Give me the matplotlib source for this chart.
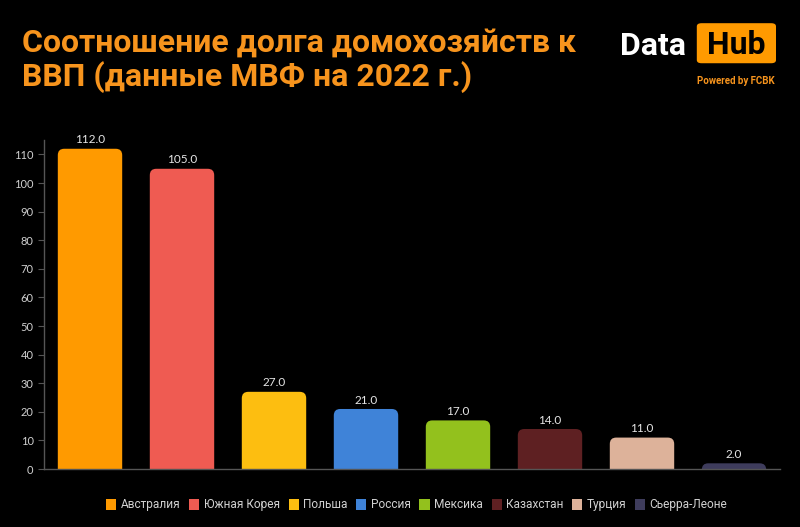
import matplotlib.pyplot as plt
from matplotlib.patches import FancyBboxPatch, Patch

countries = ['Австралия', 'Южная Корея', 'Польша', 'Россия', 'Мексика',
             'Казахстан', 'Турция', 'Сьерра-Леоне']
values = [112.0, 105.0, 27.0, 21.0, 17.0, 14.0, 11.0, 2.0]
colors = ['#FF9A00', '#EF5B52', '#FDBE10', '#3F83D8', '#93C11D',
          '#5E2022', '#DDB29A', '#3E3C5C']
yticks = list(range(0, 111, 10))

plt.rcParams['font.family'] = ['Roboto', 'DejaVu Sans']

fig = plt.figure(figsize=(8, 5.27), dpi=100, facecolor='black')
ax = fig.add_axes([0.055, 0.110, 0.920, 0.624], facecolor='black')

# bars with rounded tops (bottom part hidden below zero)
w = 0.7
bars = ax.bar(range(len(values)), values, width=w, color=colors)
for b, c in zip(bars, colors):
    b.set_visible(False)
    x0 = b.get_x()
    h = b.get_height()
    p = FancyBboxPatch((x0, -6), w, h + 6,
                       boxstyle='round,pad=0,rounding_size=0.07',
                       mutation_aspect=32, fc=c, ec='none', clip_on=True)
    ax.add_patch(p)
    ax.text(x0 + w / 2, h + 1.2, f'{h:.1f}', ha='center', va='bottom',
            color='#e6e6e6', fontsize=8.5, family=['Lato', 'DejaVu Sans'])

ax.set_xlim(-0.5, len(values) - 0.5)
ax.set_ylim(0, 115)
ax.set_yticks(yticks)
ax.set_xticks([])
ax.tick_params(axis='y', colors='#555555', labelcolor='#d0d0d0',
               labelsize=8, length=4, width=0.8)
for lab in ax.get_yticklabels():
    lab.set_family(['Lato', 'DejaVu Sans'])
for s in ['top', 'right']:
    ax.spines[s].set_visible(False)
for s in ['left', 'bottom']:
    ax.spines[s].set_color('#555555')
    ax.spines[s].set_linewidth(1)

# title
fig.text(0.027, 0.948, 'Соотношение долга домохозяйств к\nВВП (данные МВФ на 2022 г.)',
         ha='left', va='top', color='#F7941D', fontsize=23,
         fontweight='bold', linespacing=1.15)

# logo
fig.text(0.857, 0.912, 'Data', ha='right', va='center', color='white',
         fontsize=23, fontweight='bold')
fig.patches.append(FancyBboxPatch((0.871, 0.880), 0.099, 0.076,
                                  boxstyle='round,pad=0,rounding_size=0.006',
                                  transform=fig.transFigure, fc='#FF9A00',
                                  ec='none'))
fig.text(0.920, 0.915, 'Hub', ha='center', va='center', color='black',
         fontsize=23, fontweight='bold')
fig.text(0.920, 0.846, 'Powered by FCBK', ha='center', va='center',
         color='#F7941D', fontsize=7, fontweight='bold')

# legend
handles = [Patch(fc=c, ec='none') for c in colors]
fig.legend(handles, countries, loc='center', bbox_to_anchor=(0.521, 0.042),
           ncol=len(countries), frameon=False,
           labelcolor='#d0d0d0', handlelength=0.85, handleheight=1.0,
           handletextpad=0.35, columnspacing=0.75,
           prop={'family': ['Roboto', 'DejaVu Sans'], 'size': 8.6})

fig.savefig('out.png', dpi=100, facecolor='black')
